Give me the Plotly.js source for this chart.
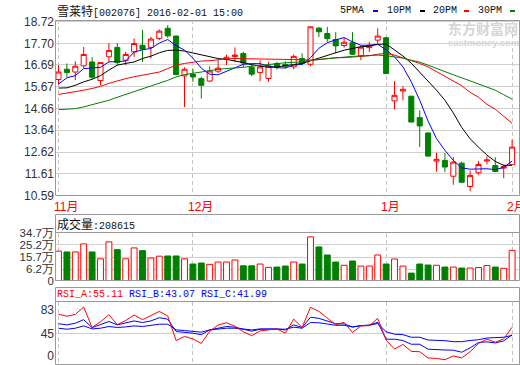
<!DOCTYPE html>
<html><head><meta charset="utf-8">
<script src="https://cdn.plot.ly/plotly-3.0.1.min.js"></script>
<style>html,body{margin:0;padding:0;background:#fff;overflow:hidden}#chart{width:520px;height:365px}</style>
</head><body><div id="chart"></div>
<script>
// ---- data ----
const openP  = [16.01,16.49,16.36,16.65,16.83,15.96,17.07,17.51,16.91,17.30,17.61,17.51,17.93,18.40,18.04,16.18,16.25,16.05,15.94,16.40,16.96,17.08,17.22,16.58,16.34,16.06,16.76,16.71,16.60,16.99,16.72,18.41,18.16,17.88,17.60,17.73,17.12,17.50,17.85,17.96,15.01,15.47,15.23,14.23,13.51,12.20,12.23,11.49,12.10,11.01,11.65,12.20,11.99,11.87,12.03];
const highP  = [16.68,16.76,16.86,17.53,17.05,16.82,17.71,17.71,17.30,17.93,18.32,18.00,18.35,18.55,18.06,16.58,16.52,16.13,16.63,16.91,17.17,17.51,17.30,16.76,16.91,16.83,16.83,16.86,17.18,17.23,18.50,18.46,18.47,18.22,17.96,18.22,17.59,17.77,18.40,18.00,15.93,15.69,15.23,14.57,13.55,12.59,12.57,12.38,12.18,11.76,12.20,12.42,12.38,12.03,13.21];
const lowP   = [15.79,16.13,15.98,16.55,16.02,15.74,16.83,16.68,16.68,17.07,16.83,16.99,17.85,17.96,16.21,14.72,15.90,15.12,15.90,16.30,16.68,16.82,16.58,16.16,15.93,15.90,16.48,16.52,16.49,16.68,16.63,17.99,17.77,17.23,17.50,17.15,16.91,17.30,17.69,16.26,14.62,15.04,14.02,12.85,12.43,11.71,11.68,11.09,11.17,10.79,11.56,12.04,11.68,11.40,12.03];
const closeP = [16.36,16.34,16.63,17.18,16.12,16.80,17.37,16.80,17.18,17.69,17.43,17.90,18.27,18.05,16.24,16.49,16.13,15.74,16.41,16.54,17.05,17.15,16.78,16.26,16.60,16.65,16.58,16.63,17.09,16.76,18.47,18.24,17.92,17.58,17.75,17.19,17.52,17.61,18.04,16.29,15.27,15.55,14.02,13.84,12.43,12.28,11.92,12.15,11.21,11.53,12.04,12.25,11.71,11.95,12.85];
const ma5  = [15.80,16.09,16.19,16.52,16.55,16.58,16.83,16.85,16.87,17.29,17.40,17.46,17.71,17.88,17.59,17.38,17.01,16.54,16.26,16.23,16.40,16.54,16.72,16.75,16.75,16.63,16.56,16.55,16.68,16.72,17.03,17.47,17.73,17.86,17.97,17.77,17.61,17.61,17.66,17.39,17.07,16.60,15.90,15.04,14.06,13.25,12.70,12.23,11.88,11.82,11.84,11.84,11.80,11.90,12.20];
const ma10 = [15.61,15.62,15.74,15.90,16.02,16.19,16.45,16.68,16.76,16.83,16.99,17.10,17.26,17.37,17.38,17.34,17.25,17.17,17.08,16.99,16.95,16.89,16.80,16.70,16.63,16.58,16.60,16.64,16.71,16.76,16.89,17.03,17.15,17.26,17.38,17.46,17.54,17.57,17.65,17.67,17.39,17.11,16.77,16.36,15.94,15.51,15.04,14.45,13.77,13.24,12.85,12.48,12.18,12.00,12.00];
const ma20 = [15.31,15.37,15.43,15.51,15.59,15.69,15.83,15.95,16.05,16.14,16.21,16.29,16.36,16.52,16.68,16.76,16.83,16.87,16.89,16.94,16.97,16.99,16.98,16.96,16.95,16.94,16.94,16.94,16.94,16.94,16.91,16.94,16.98,17.03,17.03,17.05,17.08,17.12,17.19,17.23,17.15,17.03,16.91,16.76,16.60,16.38,16.16,15.93,15.72,15.41,15.18,14.85,14.62,14.29,13.96];
const ma30 = [14.60,14.62,14.65,14.73,14.84,14.92,15.04,15.18,15.31,15.44,15.55,15.69,15.82,15.97,16.13,16.24,16.30,16.35,16.42,16.49,16.51,16.54,16.58,16.63,16.68,16.71,16.75,16.79,16.81,16.83,16.91,16.95,16.98,17.02,17.04,17.09,17.11,17.13,17.15,17.12,17.08,17.01,16.91,16.82,16.68,16.52,16.37,16.23,16.09,15.95,15.81,15.67,15.51,15.30,15.09];
const volume = [20.25,19.63,19.63,25.87,19.63,14.32,27.43,21.42,14.32,22.75,20.64,14.94,16.35,16.50,16.50,14.32,10.26,11.04,10.02,11.82,11.82,13.38,8.85,8.85,10.26,7.68,7.92,8.70,11.82,10.26,31.34,23.53,17.28,11.82,9.32,12.60,8.70,8.70,17.28,10.26,14.16,8.70,3.23,10.26,9.48,9.32,7.92,7.92,7.14,7.14,7.53,9.09,7.92,6.98,20.86];
const rsiA = [76.1,72.9,75.8,87.7,54.7,64.0,75.3,59.2,66.0,74.8,67.3,74.2,80.6,73.4,33.7,40.3,36.3,29.0,48.7,58.7,62.3,56.8,47.7,41.5,49.2,50.8,52.4,45.5,68.1,54.7,87.4,80.6,70.0,59.2,62.9,46.6,57.3,57.6,69.4,34.2,20.0,27.4,16.1,15.6,5.5,4.8,2.7,8.9,5.5,15.6,29.0,35.8,31.0,36.3,55.11];
const rsiB = [60.8,58.9,61.6,67.3,54.4,58.9,64.4,58.9,61.6,65.3,62.7,65.3,70.5,68.1,48.2,47.1,45.5,43.1,50.8,53.5,56.3,55.2,51.9,48.7,51.9,52.4,52.4,50.8,58.9,54.7,71.3,69.4,65.2,60.8,60.5,55.2,57.9,58.4,63.2,35.8,35.8,33.7,27.7,27.7,19.7,18.5,18.4,18.1,14.8,21.8,30.5,31.5,29.8,33.1,43.07];
const rsiC = [53.5,51.9,53.5,57.3,52.4,53.5,56.3,54.7,55.6,57.3,56.3,57.9,60.0,60.0,50.8,49.8,48.2,47.1,50.8,52.4,53.5,53.5,51.9,50.8,52.4,52.4,52.4,51.9,55.2,53.5,62.7,62.3,60.3,58.2,58.2,55.8,57.4,58.4,61.1,47.9,43.9,43.1,39.0,39.0,34.5,34.5,33.4,31.8,31.8,33.7,35.0,37.7,37.9,39.0,41.99];
const lastVolume = 208615;
const monthTicks  = [0, 16, 39, 54];
const monthLabels = ['11月', '12月', '1月', '2月'];
const priceTicks  = [10.59, 11.61, 12.62, 13.64, 14.66, 15.67, 16.69, 17.70, 18.72];
const volTicks    = [6.2, 15.7, 25.2, 34.7];
const rsiTicks    = [45, 83];

// ---- helpers ----
const days = closeP.map((_, i) => i);
const PX = x => (x - 55) / 464;
const PY = y => 1 - y / 365;
const UP = '#ff0000', DOWN = '#008000';
const isUp = closeP.map((c, i) => c >= openP[i]);
const VOL_FLOOR = -2.5;   // bottom of the volume panel (labelled 0 in the original)
const RSI_ZERO_LABEL = 8.7;

const traces = [
  {type:'candlestick', x:days, open:openP, high:highP, low:lowP, close:closeP,
   xaxis:'x', yaxis:'y', whiskerwidth:0, hoverinfo:'skip',
   increasing:{line:{color:UP, width:1}, fillcolor:'#ffffff'},
   decreasing:{line:{color:DOWN, width:1}, fillcolor:DOWN}},
  {type:'scatter', mode:'lines', x:days, y:ma5,  xaxis:'x', yaxis:'y', line:{color:'#0000ff', width:1}},
  {type:'scatter', mode:'lines', x:days, y:ma10, xaxis:'x', yaxis:'y', line:{color:'#000000', width:1}},
  {type:'scatter', mode:'lines', x:days, y:ma20, xaxis:'x', yaxis:'y', line:{color:'#ff0000', width:1}},
  {type:'scatter', mode:'lines', x:days, y:ma30, xaxis:'x', yaxis:'y', line:{color:'#008000', width:1}},
  {type:'bar', x:days, y:volume.map(v => v - VOL_FLOOR), base:VOL_FLOOR, width:0.7,
   xaxis:'x2', yaxis:'y2', hoverinfo:'skip',
   marker:{color:isUp.map(u => u ? '#ffffff' : DOWN), line:{color:isUp.map(u => u ? UP : DOWN), width:1}}},
  {type:'scatter', mode:'lines', x:days, y:rsiC, xaxis:'x3', yaxis:'y3', line:{color:'#0000ff', width:1}},
  {type:'scatter', mode:'lines', x:days, y:rsiB, xaxis:'x3', yaxis:'y3', line:{color:'#0000ff', width:1}},
  {type:'scatter', mode:'lines', x:days, y:rsiA, xaxis:'x3', yaxis:'y3', line:{color:'#ff0000', width:1}}
];

const xBase = {range:[-0.417, 54.82], tickvals:monthTicks, showticklabels:false, showgrid:true,
  gridcolor:'#c4c4c4', griddash:'4px,3px', gridwidth:1, zeroline:false, showline:false, ticks:'', fixedrange:true};
const yFont = {family:'Liberation Sans, Arial, sans-serif', size:12, color:'#333'};
const yFontSmall = {family:'Liberation Sans, Arial, sans-serif', size:11.5, color:'#333'};

const layout = {
  width:520, height:365, margin:{l:55, r:1, t:0, b:0, pad:0},
  paper_bgcolor:'#ffffff', plot_bgcolor:'#ffffff', showlegend:false,
  font:{family:'Liberation Sans, Arial, sans-serif', size:12, color:'#333'},
  boxgap:0.4, boxgroupgap:0, bargap:0,
  xaxis: Object.assign({}, xBase, {anchor:'y', domain:[0,1], rangeslider:{visible:false}}),
  xaxis2: Object.assign({}, xBase, {anchor:'y2', domain:[0,1], matches:'x'}),
  xaxis3: Object.assign({}, xBase, {anchor:'y3', domain:[0,1], matches:'x'}),
  yaxis: {domain:[PY(195.5), PY(20)], range:[10.59, 18.79], tickvals:priceTicks,
    ticktext:priceTicks.map(v => v.toFixed(2)), showgrid:true, gridcolor:'#d0d0d0',
    zeroline:false, showline:false, ticks:'', tickfont:yFont, fixedrange:true},
  yaxis2: {domain:[PY(280.5), PY(232.5)], range:[VOL_FLOOR, 34.7],
    tickvals:[VOL_FLOOR].concat(volTicks), ticktext:['0'].concat(volTicks.map(v => v.toFixed(1) + '万')),
    showgrid:true, gridcolor:'#d0d0d0', zeroline:false, showline:false, ticks:'', tickfont:yFontSmall, fixedrange:true},
  yaxis3: {domain:[PY(364.5), PY(301.5)], range:[-5, 96.6],
    tickvals:[RSI_ZERO_LABEL].concat(rsiTicks), ticktext:['0'].concat(rsiTicks.map(String)),
    showgrid:false, zeroline:false, showline:false, ticks:'', tickfont:yFont, fixedrange:true},
  shapes: [], annotations: []
};

const border = '#999999';
function hline(y, x0, x1, color, w) {
  layout.shapes.push({type:'line', xref:'paper', yref:'paper', x0:PX(x0), x1:PX(x1), y0:PY(y), y1:PY(y),
    line:{color:color, width:w || 1}, layer:'above'});
}
function rect(y0, y1) {
  layout.shapes.push({type:'rect', xref:'paper', yref:'paper', x0:PX(55.5), x1:PX(519.5), y0:PY(y0), y1:PY(y1),
    line:{color:border, width:1}, fillcolor:'rgba(0,0,0,0)', layer:'above'});
}
// RSI 45 reference line
layout.shapes.push({type:'line', xref:'paper', yref:'y3', x0:0, x1:1, y0:rsiTicks[0], y1:rsiTicks[0],
  line:{color:'#d0d0d0', width:1}, layer:'below'});
rect(20.5, 195.5);
rect(214.5, 280.5); hline(232.5, 55.5, 519.5, border);
rect(287.5, 364.5); hline(301.5, 55.5, 519.5, border);

function note(text, x, y, font, xanchor) {
  layout.annotations.push({xref:'paper', yref:'paper', x:PX(x), y:PY(y), text:text, showarrow:false,
    xanchor:xanchor || 'left', yanchor:'middle', borderpad:0, borderwidth:0, font:font});
}
const mono = {family:'Liberation Mono, DejaVu Sans Mono, monospace', size:10, color:'#111'};
const cjk = s => '<span style="font-family:Noto Sans CJK SC;font-size:12px">' + s + '</span>';
note(cjk('雪莱特') + '[002076] 2016-02-01 15:00', 57, 10, mono);
// MA legend
const legendItems = [['5PMA', 340, '#0000ff', 373], ['10PM', 387, '#000000', 420], ['20PM', 433, '#ff0000', 464], ['30PM', 478, '#008000', 510]];
legendItems.forEach(([t, x, c, dx]) => {
  note(t, x, 10.5, mono);
  layout.shapes.push({type:'line', xref:'paper', yref:'paper', x0:PX(dx), x1:PX(dx + 5), y0:PY(11), y1:PY(11),
    line:{color:c, width:2}, layer:'above'});
});
// panel headers
note(cjk('成交量') + ':' + lastVolume, 57, 223, mono);
note('<span style="color:#ff0000">RSI_A:' + rsiA[rsiA.length - 1].toFixed(2) + '</span> ' +
     '<span style="color:#0000ff">RSI_B:' + rsiB[rsiB.length - 1].toFixed(2) + ' RSI_C:' + rsiC[rsiC.length - 1].toFixed(2) + '</span>',
     57, 294.5, mono);
// month labels
monthTicks.forEach((d, k) => {
  layout.annotations.push({xref:'x', yref:'paper', x:d, y:PY(207), xshift:-5, text:monthLabels[k], showarrow:false,
    xanchor:'left', yanchor:'middle', borderpad:0, borderwidth:0,
    font:{family:'Liberation Sans, Noto Sans CJK SC, sans-serif', size:12, color:'#ff0000'}});
});
// watermark
note('东方财富网', 448, 28.5, {family:'Noto Sans CJK SC, sans-serif', size:14, color:'#d6d6d6', weight:'bold'});
note('eastmoney.com', 448, 42.5, {family:'Liberation Sans, sans-serif', size:9.5, color:'#d6d6d6', weight:'bold'});

Plotly.newPlot('chart', traces, layout, {staticPlot:true, displayModeBar:false});
</script>
</body></html>
